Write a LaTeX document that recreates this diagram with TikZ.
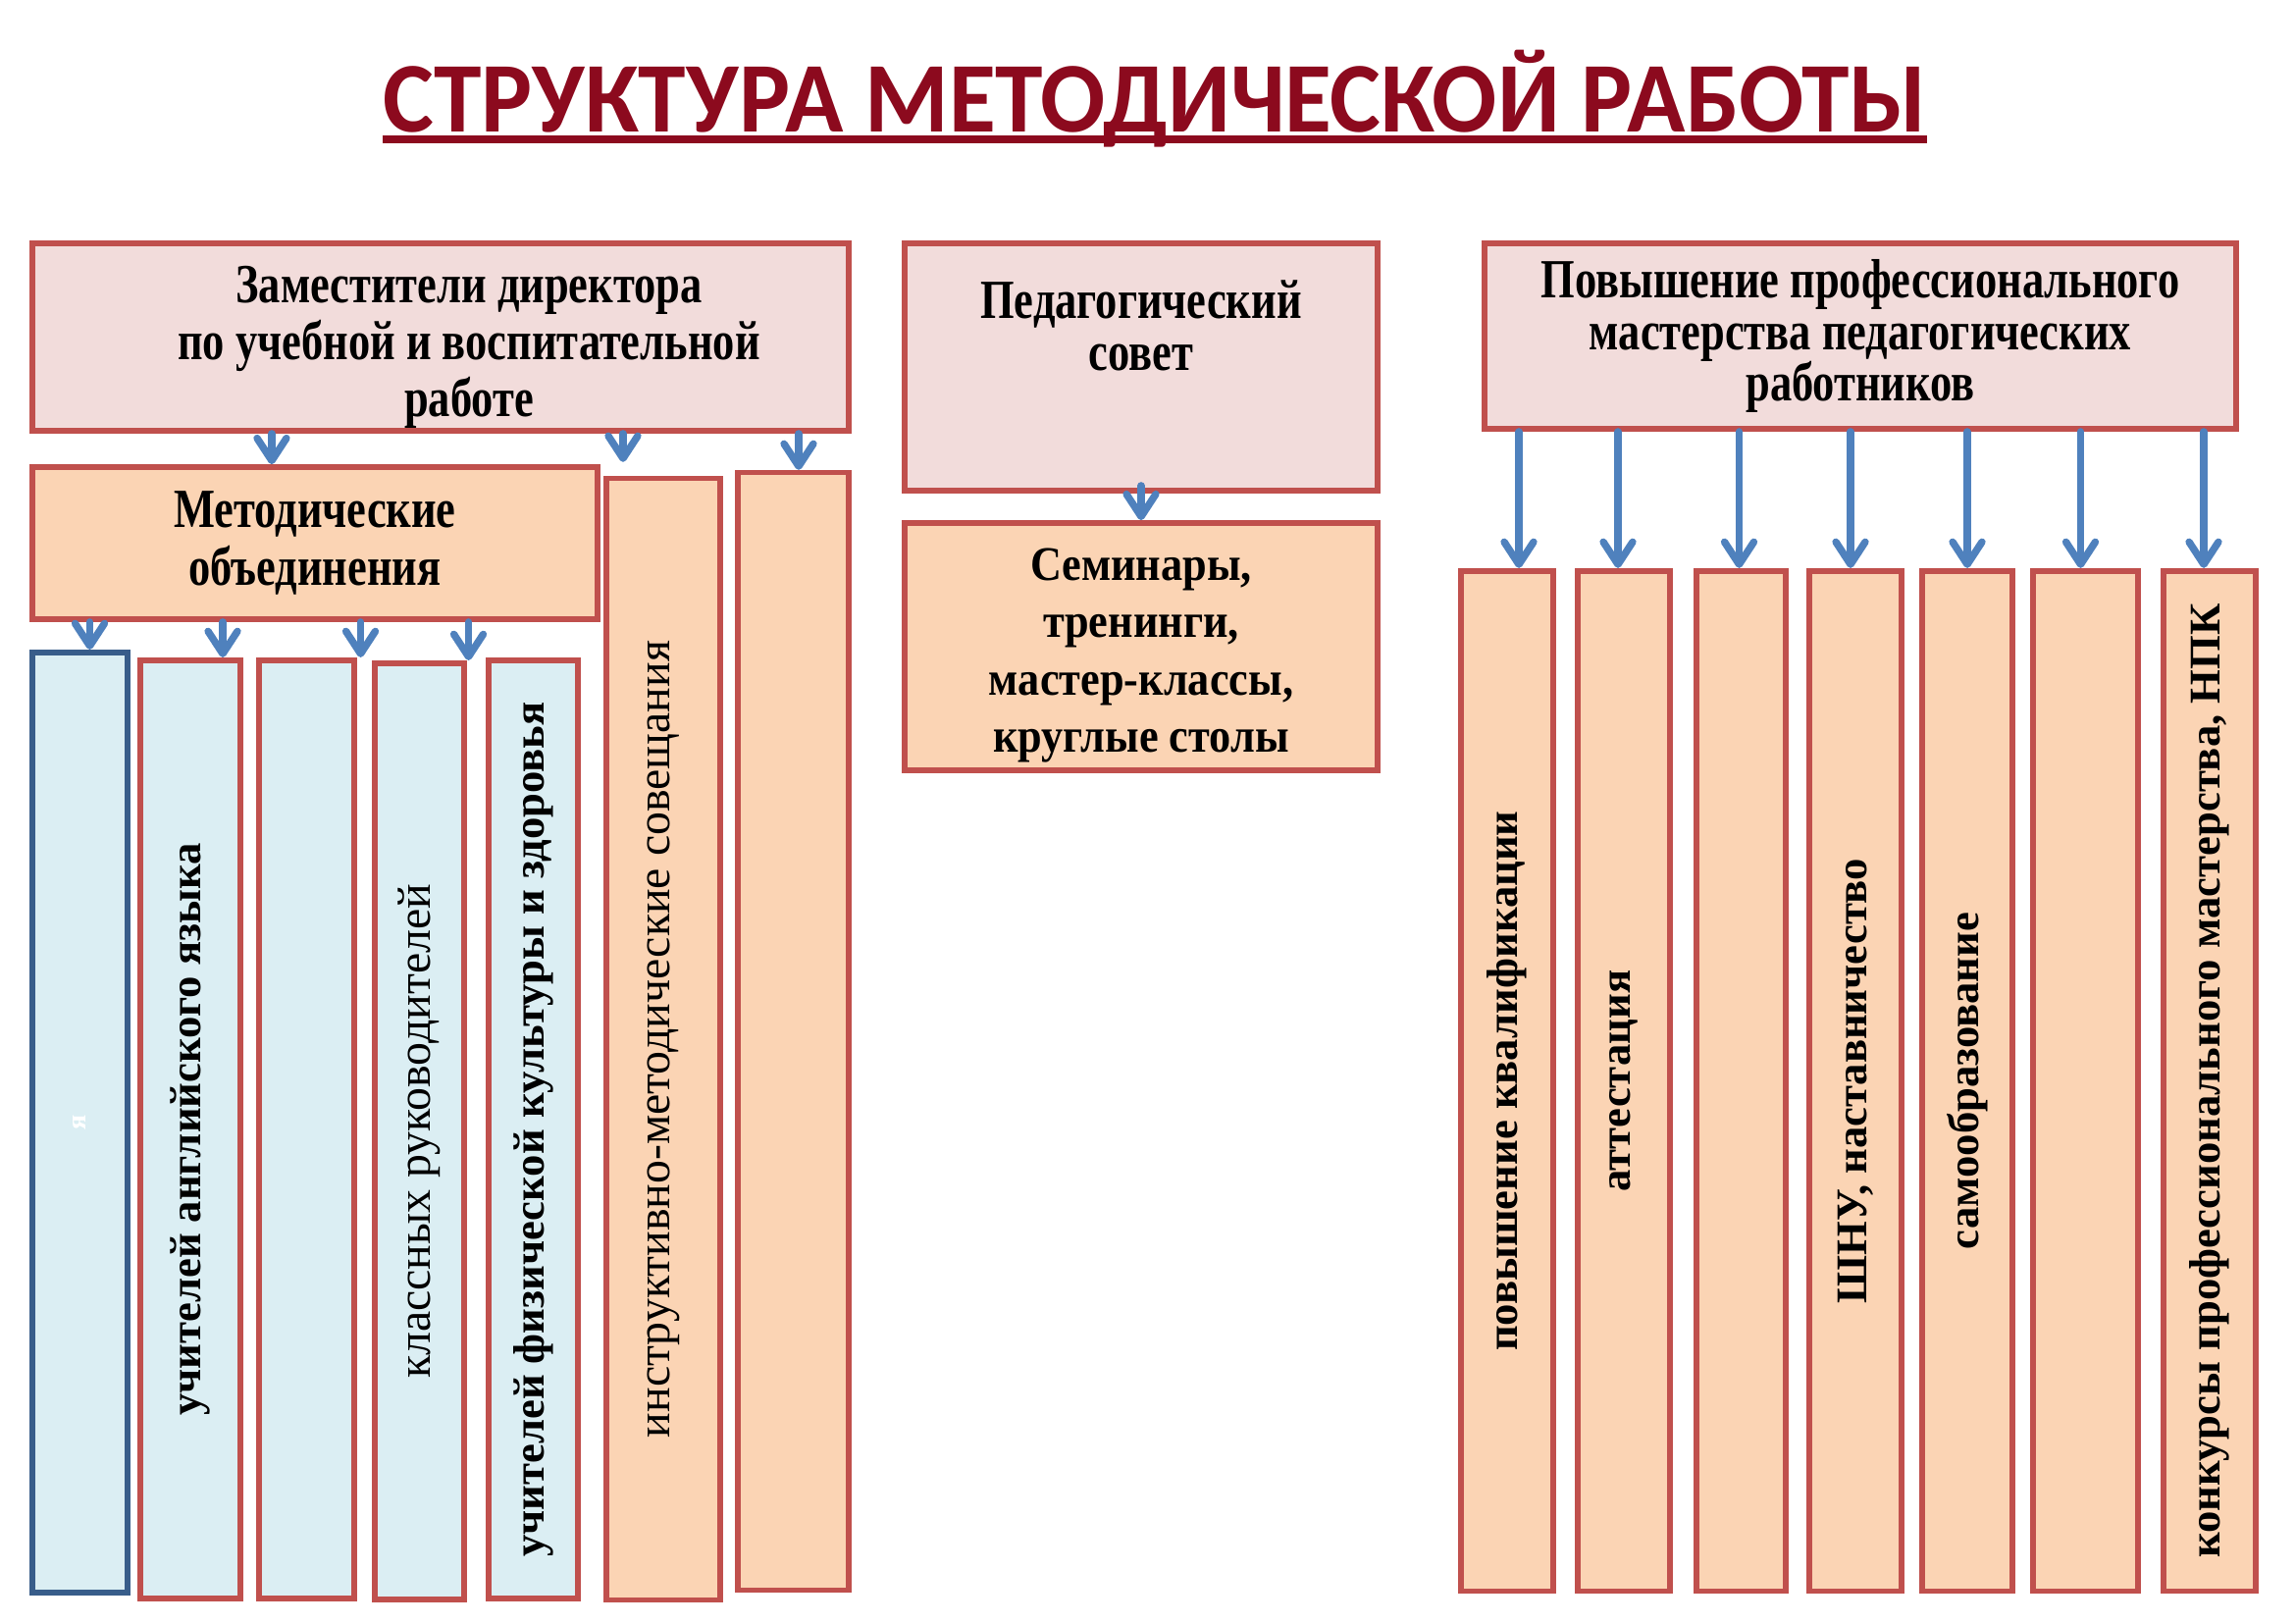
\documentclass[tikz,border=0pt]{standalone}
\usepackage{fontspec}
\setmainfont{Liberation Serif}
\newfontfamily\titlefont[FakeStretch=0.96]{Carlito}
\newfontfamily\narrowfont[FakeStretch=0.79]{Liberation Serif}
\newfontfamily\semifont[FakeStretch=0.9]{Liberation Serif}
\usetikzlibrary{arrows.meta, positioning, calc}
\definecolor{boxred}{HTML}{C0504D}
\definecolor{pinkfill}{HTML}{F2DCDB}
\definecolor{peachfill}{HTML}{FBD4B4}
\definecolor{bluefill}{HTML}{DBEEF3}
\definecolor{blueline}{HTML}{385D8A}
\definecolor{arrblue}{HTML}{4F81BD}
\definecolor{titlered}{HTML}{8C0A1E}
\tikzset{
  hdr/.style={draw=boxred, line width=1.6pt, fill=pinkfill, align=center, inner sep=0pt,
    font=\narrowfont\bfseries\fontsize{16}{16.5}\selectfont},
  sub/.style={hdr, fill=peachfill},
  col/.style={draw=boxred, line width=1.6pt, fill=peachfill, inner sep=0pt,
    font=\bfseries\fontsize{12.7}{15}\selectfont},
  lightcol/.style={col, font=\fontsize{13.6}{15}\selectfont},
  bcol/.style={col, fill=bluefill},
  arr/.style={draw=arrblue, line width=2.1pt, line cap=round,
    -{Straight Barb[length=6.5pt,width=8.5pt,round]}}
}
\begin{document}
\begin{tikzpicture}[x=0.01cm,y=-0.01cm]
  \def\coly{1101.5}
  \def\colh{10.39cm}
  \useasboundingbox[fill=white] (0,0) rectangle (2339,1654);

  % title
  \node[anchor=base, inner sep=0pt, text=titlered, font=\titlefont\bfseries\fontsize{29}{34}\selectfont] (title) at (1177,134) {СТРУКТУРА МЕТОДИЧЕСКОЙ РАБОТЫ};
  \draw[titlered, line width=2pt] ([yshift=-0.08cm]title.base west) -- ([yshift=-0.08cm]title.base east);

  % top boxes
  \node[hdr, minimum width=8.32cm, minimum height=1.91cm] (A) at (449,343.5) {};
  \node[font=\narrowfont\bfseries\fontsize{16}{16.5}\selectfont, align=center, inner sep=0pt] (Atxt) at ([xshift=0.29cm,yshift=-0.1cm]A.center) {Заместители директора\\ по учебной и воспитательной\\ работе};
  \node[hdr, minimum width=4.82cm, minimum height=2.52cm] (B) at (1163,374) {};
  \node[below=0.4cm of B.north, font=\narrowfont\bfseries\fontsize{16}{15}\selectfont, align=center, inner sep=0pt] (Btxt) {Педагогический\\совет};
  \node[hdr, minimum width=7.66cm, minimum height=1.89cm, font=\narrowfont\bfseries\fontsize{16}{15}\selectfont] (C) at (1896,342.5) {Повышение профессионального\\ мастерства педагогических\\ работников};

  % second row
  \node[sub, minimum width=5.76cm, minimum height=1.55cm, font=\narrowfont\bfseries\fontsize{16}{17}\selectfont] (D) at (321,553.5) {Методические\\ объединения};
  \node[sub, minimum width=4.82cm, minimum height=2.52cm] (G) at (1163,659) {};
  \node[font=\semifont\bfseries\fontsize{14}{16.5}\selectfont, align=center, inner sep=0pt] (Gtxt) at ([yshift=-0.09cm]G.center) {Семинары,\\ тренинги,\\ мастер-классы,\\ круглые столы};
  \node[lightcol, minimum width=1.16cm, minimum height=11.42cm] (E) at (676,1059) {\rotatebox{90}{инструктивно-методические совещания}};
  \node[col, minimum width=1.13cm, minimum height=11.38cm] (F) at (808.5,1051) {};

  % left columns
  \node[bcol, draw=blueline, minimum width=0.97cm, minimum height=9.58cm, text=white, font=\bfseries\fontsize{8}{9}\selectfont] (L1) at (81.5,1144) {\rotatebox{90}{я}};
  \node[bcol, minimum width=1.02cm, minimum height=9.56cm] (L2) at (194,1151) {\rotatebox{90}{учителей английского языка}};
  \node[bcol, minimum width=0.97cm, minimum height=9.56cm] (L3) at (312.5,1151) {};
  \node[bcol, lightcol, fill=bluefill, minimum width=0.91cm, minimum height=9.54cm] (L4) at (427.5,1153) {\rotatebox{90}{классных руководителей}};
  \node[bcol, minimum width=0.91cm, minimum height=9.56cm] (L5) at (543.5,1151) {\rotatebox{90}{учителей физической культуры и здоровья}};

  % right columns
  \foreach \n/\cx/\w/\txt in {1/1536/0.94/{повышение квалификации}, 2/1655/0.94/{аттестация}, 3/1774.5/0.91/{}, 4/1891/0.94/{ШНУ, наставничество}, 5/2005/0.92/{самообразование}, 6/2125.5/1.07/{}, 7/2252/0.94/{конкурсы профессионального мастерства, НПК}}
    \node[col, minimum width=\w cm, minimum height=\colh] (R\n) at (\cx,\coly) {\rotatebox{90}{\txt}};

  % arrows
  \coordinate (tD) at ([xshift=-0.44cm]D.north);
  \coordinate (tE) at ([xshift=-0.41cm,yshift=0.14cm]E.north);
  \coordinate (tF) at ([xshift=0.055cm]F.north);
  \draw[arr] (A.south -| tD) -- (tD);
  \draw[arr] (A.south -| tE) -- (tE);
  \draw[arr] (A.south -| tF) -- (tF);
  \draw[arr] ([yshift=0.08cm]B.south -| G.north) -- (G.north);
  \coordinate (t1) at ([xshift=0.1cm]L1.north);
  \coordinate (t2) at ([xshift=0.33cm]L2.north);
  \coordinate (t3) at ([xshift=0.55cm]L3.north);
  \coordinate (t4) at ([xshift=0.5cm]L4.north);
  \foreach \i in {1,...,4}
    \draw[arr] (D.south -| t\i) -- (t\i);
  \foreach \i/\dx in {1/0.12, 2/-0.06, 3/-0.02, 4/-0.05, 5/0, 6/-0.05, 7/-0.06} {
    \coordinate (r\i) at ([xshift=\dx cm]R\i.north);
    \draw[arr] (C.south -| r\i) -- (r\i);
  }
\end{tikzpicture}
\end{document}
